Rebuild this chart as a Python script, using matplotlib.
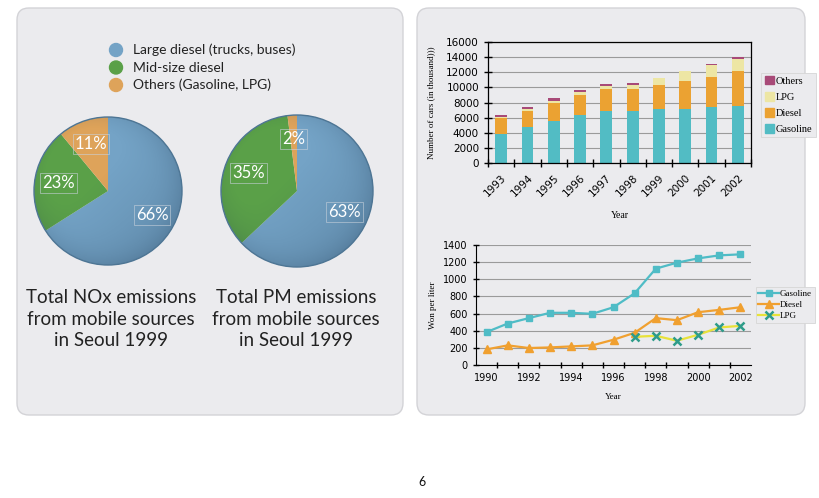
import matplotlib
matplotlib.use('Agg')
import matplotlib.pyplot as plt
from matplotlib.patches import FancyBboxPatch, Circle, Patch
import numpy as np

W, H = 819, 498

# pie charts: share of emissions (%)
pie_labels = ['Large diesel (trucks, buses)', 'Mid-size diesel', 'Others (Gasoline, LPG)']
nox_share = [66, 23, 11]
pm_share = [63, 35, 2]
pie_colors = ['#74a3c6', '#5aa048', '#dea35a']

# registered cars (thousand)
car_years = ['1993', '1994', '1995', '1996', '1997', '1998', '1999', '2000', '2001', '2002']
cars_gasoline = [3900, 4700, 5500, 6300, 6900, 6850, 7100, 7100, 7350, 7600]
cars_diesel = [2000, 2200, 2500, 2750, 2900, 2950, 3150, 3700, 4050, 4500]
cars_lpg = [200, 250, 250, 300, 400, 500, 950, 1300, 1600, 1700]
cars_others = [300, 300, 280, 350, 260, 300, 100, 50, 60, 250]

# fuel prices (won per liter)
price_years = [1990, 1991, 1992, 1993, 1994, 1995, 1996, 1997, 1998, 1999, 2000, 2001, 2002]
price_gasoline = [384, 484, 547, 609, 609, 597, 674, 837, 1124, 1194, 1244, 1279, 1291]
price_diesel = [182, 229, 198, 205, 217, 229, 295, 376, 547, 523, 616, 643, 674]
lpg_years = [1997, 1998, 1999, 2000, 2001, 2002]
price_lpg = [329, 341, 283, 353, 438, 457]

SANS = 'Lato'
SERIF = 'Liberation Serif'

fig = plt.figure(figsize=(W / 100, H / 100), dpi=100, facecolor='white')

# background canvas in pixel coords
bg = fig.add_axes([0, 0, 1, 1])
bg.set_xlim(0, W)
bg.set_ylim(H, 0)
bg.axis('off')
for x0, x1 in [(17, 403), (417, 805)]:
    bg.add_patch(FancyBboxPatch((x0, 8), x1 - x0, 407,
                                boxstyle='round,pad=0,rounding_size=12',
                                fc='#ebebee', ec='#d3d3d7', lw=1))

# pie legend
for i, (lab, col) in enumerate(zip(pie_labels, pie_colors)):
    y = 50 + i * 17.5
    bg.add_patch(Circle((116, y), 6.5, color=col))
    bg.text(133, y, lab, va='center', ha='left', fontsize=10, family=SANS, color='#222222')

bg.text(111, 319, 'Total NOx emissions\nfrom mobile sources\nin Seoul 1999', ha='center', va='center',
        fontsize=13.5, family=SANS, color='#222222', linespacing=1.3)
bg.text(296, 319, 'Total PM emissions\nfrom mobile sources\nin Seoul 1999', ha='center', va='center',
        fontsize=13.5, family=SANS, color='#222222', linespacing=1.3)
bg.text(422, 482, '6', ha='center', va='center', fontsize=9, family=SANS, color='#111111')


def draw_pie(cx, cy, r, values):
    m = 1.1
    ax = fig.add_axes([(cx - r * m) / W, 1 - (cy + r * m) / H, 2 * r * m / W, 2 * r * m / H])
    wedges, _, autotexts = ax.pie(values, colors=pie_colors, startangle=90, counterclock=False,
                                  autopct=lambda p: f'{p:.0f}%', pctdistance=0.68,
                                  wedgeprops=dict(linewidth=0),
                                  textprops=dict(color='white', fontsize=12, family=SANS))
    for t in autotexts:
        t.set_bbox(dict(facecolor='none', edgecolor='#c9d2dc', lw=0.5, pad=1.5, alpha=0.8))
        t.set_zorder(5)
    # soft shading to imitate the lit 3D look
    g = np.linspace(-1, 1, 200)
    X, Y = np.meshgrid(g, g)
    shade = np.zeros((200, 200, 4))
    shade[..., :3] = (0.12, 0.22, 0.32)
    shade[..., 3] = np.clip(0.03 + 0.1 * (X - Y) + 0.15 * np.hypot(X, Y) ** 5, 0, 0.35)
    im = ax.imshow(shade, extent=(-1, 1, -1, 1), origin='lower', zorder=2)
    im.set_clip_path(Circle((0, 0), 1, transform=ax.transData))
    ax.add_patch(Circle((0, 0), 1, fill=False, ec='#4d7594', lw=1, zorder=3))
    ax.set_xlim(-m, m)
    ax.set_ylim(-m, m)
    ax.axis('off')


draw_pie(108, 191, 74, nox_share)
draw_pie(297, 191, 76, pm_share)

# stacked bars of registered cars
ax1 = fig.add_axes([488 / W, 1 - 163 / H, 263 / W, 121 / H])
x = np.arange(len(car_years))
bw = 0.45
c_gas, c_die, c_lpg, c_oth = '#52bcc4', '#eba232', '#ede6a4', '#a84a78'
b1 = np.array(cars_gasoline)
b2 = b1 + np.array(cars_diesel)
b3 = b2 + np.array(cars_lpg)
ax1.bar(x, cars_gasoline, bw, color=c_gas, zorder=2)
ax1.bar(x, cars_diesel, bw, bottom=b1, color=c_die, zorder=2)
ax1.bar(x, cars_lpg, bw, bottom=b2, color=c_lpg, zorder=2)
ax1.bar(x, cars_others, bw, bottom=b3, color=c_oth, zorder=2)
ax1.set_facecolor('none')
ax1.set_xlim(-0.5, len(car_years) - 0.5)
ax1.set_ylim(0, 16000)
ax1.set_yticks(range(0, 16001, 2000))
ax1.yaxis.grid(True, color='#9a9a9a', lw=0.8, zorder=0)
ax1.set_xticks(x, car_years, rotation=45, ha='right', rotation_mode='anchor')
ax1.set_xticks(np.arange(-0.5, len(car_years), 1), minor=True)
ax1.tick_params(axis='x', which='major', length=0, pad=7, labelsize=7.5)
ax1.tick_params(axis='x', which='minor', length=6, direction='inout', width=1)
ax1.tick_params(axis='y', length=6, direction='inout', width=1, labelsize=7.5)
for s in ax1.spines.values():
    s.set_linewidth(0.9)
ax1.set_ylabel('Number of cars (in thousand)))', family=SERIF, fontsize=6.5)
ax1.yaxis.set_label_coords(-0.2, 0.5)
ax1.set_xlabel('Year', family=SERIF, fontsize=7)
ax1.xaxis.set_label_coords(0.5, -0.4)
handles = [Patch(color=c_oth, label='Others'), Patch(color=c_lpg, label='LPG'),
           Patch(color=c_die, label='Diesel'), Patch(color=c_gas, label='Gasoline')]
leg = ax1.legend(handles=handles, loc='center left', bbox_to_anchor=(1.02, 0.48),
                 prop=dict(family=SERIF, size=7.5), handlelength=0.9, handleheight=0.9,
                 handletextpad=0.2, labelspacing=0.6, borderpad=0.3, fancybox=False,
                 edgecolor='#d6d6d6', facecolor='#ebebee', framealpha=1)
leg.get_frame().set_linewidth(0.6)

# fuel price lines
ax2 = fig.add_axes([476 / W, 1 - 365 / H, 275 / W, 120 / H])
ax2.set_facecolor('none')
ax2.plot(price_years, price_gasoline, color='#4fbcc6', lw=1.6, marker='s', ms=5,
         label='Gasoline', zorder=3)
ax2.plot(price_years, price_diesel, color='#f0a030', lw=1.6, marker='^', ms=5.5,
         label='Diesel', zorder=3)
ax2.plot(lpg_years, price_lpg, color='#e8e23a', lw=1.6, marker='x', ms=6, mew=1.8,
         mec='#2e9c8a', label='LPG', zorder=3)
ax2.set_xlim(1989.5, 2002.5)
ax2.set_ylim(0, 1400)
ax2.set_yticks(range(0, 1401, 200))
ax2.yaxis.grid(True, color='#9a9a9a', lw=0.8, zorder=0)
ax2.set_xticks(range(1990, 2003, 2))
ax2.set_xticks(np.arange(1990.5, 2002.5, 1), minor=True)
ax2.tick_params(axis='x', which='major', length=0, pad=6, labelsize=7)
ax2.tick_params(axis='x', which='minor', length=5, direction='inout', width=1)
ax2.tick_params(axis='y', length=5, direction='inout', width=1, labelsize=7)
ax2.spines['top'].set_visible(False)
ax2.spines['right'].set_visible(False)
ax2.set_ylabel('Won per liter', family=SERIF, fontsize=6.5)
ax2.yaxis.set_label_coords(-0.142, 0.5)
ax2.set_xlabel('Year', family=SERIF, fontsize=6.5)
ax2.xaxis.set_label_coords(0.5, -0.235)
leg2 = ax2.legend(loc='center left', bbox_to_anchor=(1.01, 0.5), prop=dict(family=SERIF, size=6.5),
                  handlelength=2.3, handletextpad=0.1, labelspacing=0.3, borderpad=0.3,
                  borderaxespad=0.2, fancybox=False, edgecolor='#d6d6d6', facecolor='#ebebee',
                  framealpha=1)
leg2.get_frame().set_linewidth(0.6)

fig.savefig('out.png', dpi=100, facecolor='white')
